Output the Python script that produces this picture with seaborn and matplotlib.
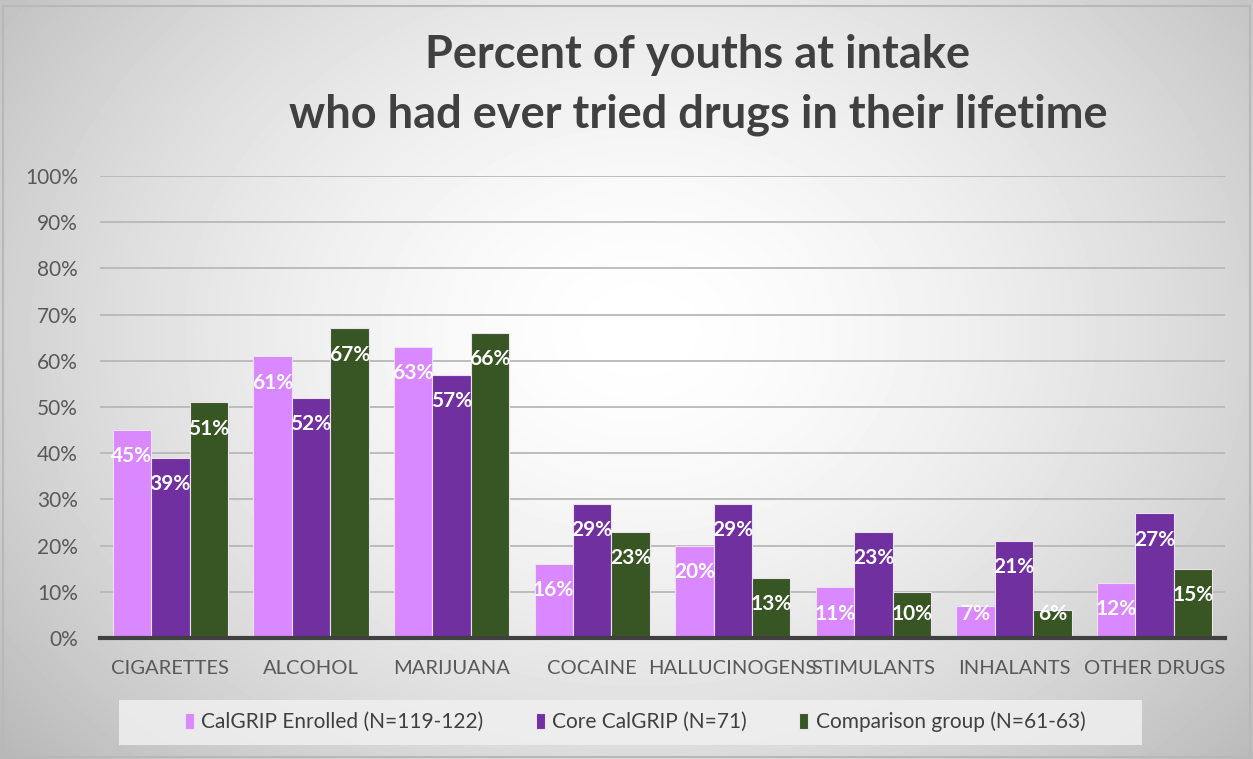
import numpy as np
import pandas as pd
import seaborn as sns
import matplotlib.pyplot as plt
from matplotlib.patches import Patch, Rectangle

categories = ["CIGARETTES", "ALCOHOL", "MARIJUANA", "COCAINE", "HALLUCINOGENS",
              "STIMULANTS", "INHALANTS", "OTHER DRUGS"]
series_names = ["CalGRIP Enrolled (N=119-122)", "Core CalGRIP (N=71)",
                "Comparison group (N=61-63)"]
calgrip_enrolled = [45, 61, 63, 16, 20, 11, 7, 12]
core_calgrip = [39, 52, 57, 29, 29, 23, 21, 27]
comparison_group = [51, 67, 66, 23, 13, 10, 6, 15]
y_ticks = [0, 10, 20, 30, 40, 50, 60, 70, 80, 90, 100]
colors = ["#D988FF", "#7030A0", "#375623"]
title = "Percent of youths at intake\nwho had ever tried drugs in their lifetime"

series_values = [calgrip_enrolled, core_calgrip, comparison_group]
df = pd.DataFrame({
    "category": categories * 3,
    "series": [s for s in series_names for _ in categories],
    "value": calgrip_enrolled + core_calgrip + comparison_group,
})

sns.set_theme(style="white")
plt.rcParams['font.family'] = ['Lato', 'DejaVu Sans']

W, H = 1253, 759
fig = plt.figure(figsize=(W / 100, H / 100), dpi=100)

# background radial gradient
bg = fig.add_axes([0, 0, 1, 1], zorder=0)
yy, xx = np.mgrid[0:H, 0:W]
r = np.sqrt(((xx - 640) / 820) ** 2 + ((yy - 330) / 640) ** 2)
val = 1 - 0.27 * np.clip(r, 0, 1.2) ** 1.6
bg.imshow(val, cmap='gray', vmin=0, vmax=1, extent=[0, 1, 0, 1],
          aspect='auto', origin='upper', interpolation='bilinear')
bg.set_xlim(0, 1)
bg.set_ylim(0, 1)
bg.axis('off')
fig.patches.append(Rectangle((0.002, 0.002), 0.996, 0.99, transform=fig.transFigure,
                             fill=False, edgecolor='#b8b8b8', linewidth=1.5, zorder=0.5))

ax = fig.add_axes([100 / W, 1 - 638 / H, 1125 / W, 462 / H], zorder=1)
ax.patch.set_alpha(0)

sns.barplot(data=df, x="category", y="value", hue="series", palette=colors,
            hue_order=series_names, order=categories, width=0.82, saturation=1,
            edgecolor="#ece0f2", linewidth=0.8, ax=ax, legend=False)

ax.set_ylim(0, 100)
ax.set_xlim(-0.5, len(categories) - 0.5)
ax.set_yticks(y_ticks)
ax.set_yticklabels([f"{t}%" for t in y_ticks])
ax.set_xlabel("")
ax.set_ylabel("")
ax.yaxis.grid(True, color="#b8b8b8", linewidth=1.3)
ax.set_axisbelow(True)
for s in ["top", "right", "left"]:
    ax.spines[s].set_visible(False)
ax.spines["bottom"].set_color("#404040")
ax.spines["bottom"].set_linewidth(3)
ax.tick_params(axis='both', length=0, colors="#595959")
ax.tick_params(axis='y', pad=16, labelsize=15)
ax.tick_params(axis='x', pad=16, labelsize=14.5)

for cont, vals in zip(ax.containers, series_values):
    for bar, v in zip(cont, vals):
        ax.annotate(f"{v}%", (bar.get_x() + bar.get_width() / 2, max(v, 11)),
                    xytext=(0, -19), textcoords="offset points", ha="center",
                    va="center", color="white", fontsize=15, fontweight="bold")

fig.text(698 / W, 1 - 85 / H, title, ha="center", va="center", fontsize=32.5,
         fontweight="bold", color="#404040", linespacing=1.5)

fig.patches.append(Rectangle((119 / W, 1 - 745 / H), 1023 / W, 45 / H,
                             transform=fig.transFigure, facecolor="#f0f0f0",
                             edgecolor="none", alpha=0.85, zorder=1))
handles = [Patch(facecolor=c, edgecolor="#ece0f2", linewidth=0.8) for c in colors]
leg = fig.legend(handles, series_names, loc="center", ncol=3,
                 bbox_to_anchor=(635 / W, 1 - 722 / H), frameon=False,
                 fontsize=15, handlelength=0.45, handleheight=0.8,
                 handletextpad=0.35, columnspacing=2.5)
for t in leg.get_texts():
    t.set_color("#404040")
leg.set_zorder(3)

fig.savefig("out.png", dpi=100)
